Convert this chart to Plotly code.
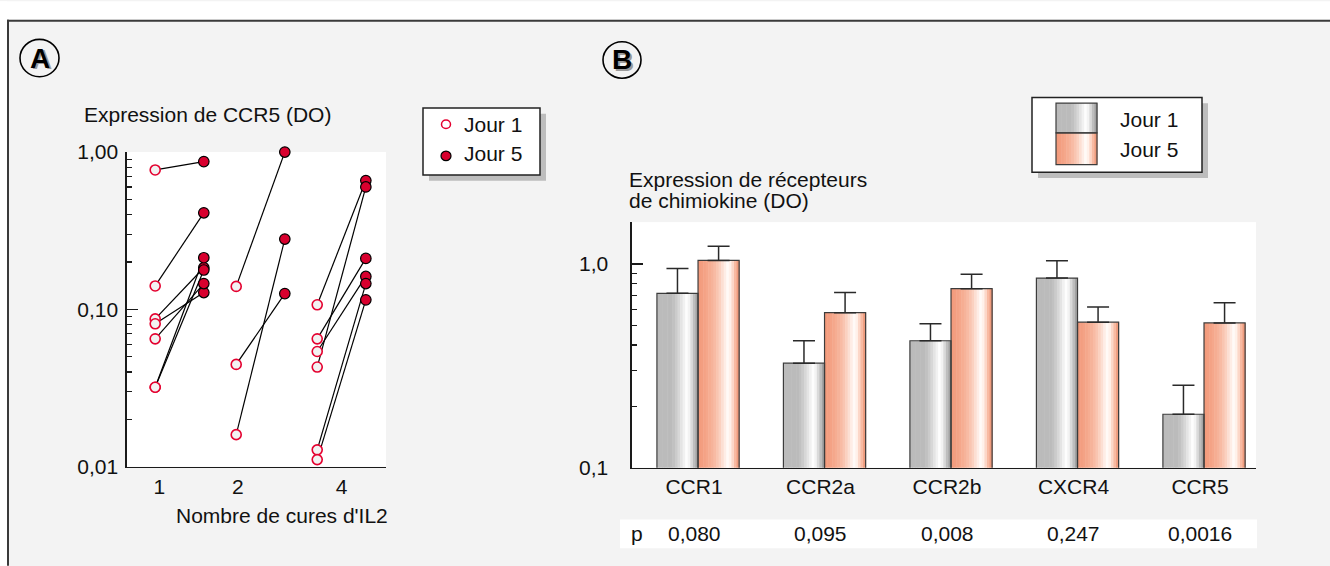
import plotly.graph_objects as go

# ---------------- data ----------------
# Panel A : CCR5 expression (DO), one entry per patient
a_groups = ['1', '2', '4']                     # Nombre de cures d'IL2
a_patient_group = [0, 0, 0, 0, 0, 0, 0, 1, 1, 1, 2, 2, 2, 2, 2, 2]
a_jour1 = [0.77, 0.141, 0.087, 0.081, 0.065, 0.032, 0.032,
           0.140, 0.0447, 0.016,
           0.107, 0.065, 0.054, 0.043, 0.0128, 0.0111]
a_jour5 = [0.87, 0.411, 0.184, 0.128, 0.146, 0.213, 0.178,
           1.0, 0.126, 0.28,
           0.659, 0.211, 0.162, 0.600, 0.146, 0.115]
a_tick_pos = [0.75, 1.72, 3.0]
a_ytick_vals = [0.01, 0.1, 1.0]
a_ytick_text = ['0,01', '0,10', '1,00']

# Panel B : chemokine receptor expression (DO)
b_cats = ['CCR1', 'CCR2a', 'CCR2b', 'CXCR4', 'CCR5']
b_jour1 = [0.718, 0.326, 0.420, 0.853, 0.183]
b_jour1_err = [0.233, 0.094, 0.089, 0.184, 0.071]
b_jour5 = [1.041, 0.577, 0.757, 0.518, 0.514]
b_jour5_err = [0.180, 0.148, 0.134, 0.098, 0.132]
b_p = ['0,080', '0,095', '0,008', '0,247', '0,0016']
b_ytick_vals = [0.1, 1.0]
b_ytick_text = ['0,1', '1,0']

# ---------------- style ----------------
W, H = 1330, 566
FONT = "Liberation Sans, Arial, Helvetica, sans-serif"
FS = 21
BG = '#f3f3f3'
RED = '#d8002e'
RED_RING = '#e4002f'
INK = '#1a1a1a'
GRAY_STRIPES = ['#bbbbbb'] * 6 + ['#c1c1c1', '#cbcbcb', '#d7d7d7', '#e4e4e4', '#f1f1f1',
                                  '#fdfdfd', '#f3f3f3', '#dadada', '#bebebe', '#a3a3a3']
SALMON_STRIPES = ['#f39b7c', '#f39e80', '#f4a285', '#f5a78b', '#f6ad92', '#f6b39a',
                  '#f8bba4', '#f9c5b1', '#fbd1c0', '#fcdfd3', '#feede6', '#fffaf7',
                  '#fff1ea', '#fcd7c8', '#f8baa2', '#ef9c7e']
A_OFF = 0.30
BAR_W = 0.325


def px(x):
    return x / W


def py(y):
    return 1 - y / H


fig = go.Figure()

# ---------------- panel A traces ----------------
x1 = [g + 1 - A_OFF for g in a_patient_group]
x5 = [g + 1 + A_OFF for g in a_patient_group]
lx, ly = [], []
for xa, ya, xb, yb in zip(x1, a_jour1, x5, a_jour5):
    lx += [xa, xb, None]
    ly += [ya, yb, None]
fig.add_trace(go.Scatter(x=lx, y=ly, mode='lines', line=dict(color='black', width=1.2),
                         xaxis='x', yaxis='y', hoverinfo='skip', cliponaxis=False))
fig.add_trace(go.Scatter(x=x1, y=a_jour1, mode='markers', xaxis='x', yaxis='y',
                         marker=dict(size=10, color='#f2f2f2', line=dict(color=RED_RING, width=1.6)),
                         cliponaxis=False, hoverinfo='skip'))
fig.add_trace(go.Scatter(x=x5, y=a_jour5, mode='markers', xaxis='x', yaxis='y',
                         marker=dict(size=10.5, color=RED, line=dict(color='black', width=1.2)),
                         cliponaxis=False, hoverinfo='skip'))

# ---------------- panel B traces ----------------
bx = list(range(len(b_cats)))
n = len(GRAY_STRIPES)
sw = BAR_W / n
for i in range(n):
    fig.add_trace(go.Bar(x=bx, y=b_jour1, offset=-BAR_W + i * sw, width=sw * 1.2,
                         marker=dict(color=GRAY_STRIPES[i], line=dict(width=0)),
                         xaxis='x2', yaxis='y2', hoverinfo='skip'))
for i in range(n):
    fig.add_trace(go.Bar(x=bx, y=b_jour5, offset=i * sw, width=sw * 1.2,
                         marker=dict(color=SALMON_STRIPES[i], line=dict(width=0)),
                         xaxis='x2', yaxis='y2', hoverinfo='skip'))
for vals, errs, off in [(b_jour1, b_jour1_err, -BAR_W), (b_jour5, b_jour5_err, 0)]:
    fig.add_trace(go.Bar(x=bx, y=vals, offset=off, width=BAR_W,
                         marker=dict(color='rgba(0,0,0,0)', line=dict(color='#3c3c3c', width=1.2)),
                         error_y=dict(type='data', symmetric=False, array=errs,
                                      arrayminus=[0] * len(errs), color='#2a2a2a',
                                      thickness=1.5, width=11),
                         xaxis='x2', yaxis='y2', hoverinfo='skip'))

# ---------------- axes ----------------
tickfont = dict(family=FONT, size=FS, color='#111')
fig.update_layout(
    width=W, height=H, margin=dict(l=0, r=0, t=0, b=0),
    paper_bgcolor=BG, plot_bgcolor='white', showlegend=False, barmode='overlay',
    font=dict(family=FONT, size=FS, color='#111'),
    xaxis=dict(domain=[px(127), px(386)], range=[0.352, 3.549], anchor='y',
               showline=True, linecolor=INK, linewidth=1.6, ticks='', showgrid=False,
               zeroline=False, tickvals=a_tick_pos, ticktext=a_groups, tickfont=tickfont,
               ticklabelstandoff=0),
    yaxis=dict(domain=[py(474), py(146)], type='log', range=[-2, 0], anchor='x',
               showline=True, linecolor=INK, linewidth=1.6, showgrid=False, zeroline=False,
               ticks='inside', ticklen=11, tickwidth=1.5, tickcolor=INK,
               tickvals=a_ytick_vals, ticktext=a_ytick_text, tickfont=tickfont,
               ticklabelstandoff=3,
               minor=dict(ticks='inside', ticklen=5, tickwidth=1.2, tickcolor=INK,
                          tickvals=[k * 0.01 for k in range(2, 10)] + [k * 0.1 for k in range(2, 10)],
                          showgrid=False)),
    xaxis2=dict(domain=[px(632), px(1256)], range=[-0.522, 4.411], anchor='y2',
                showline=True, linecolor=INK, linewidth=1.6, ticks='', showgrid=False,
                zeroline=False, tickvals=bx, ticktext=b_cats, tickfont=tickfont,
                ticklabelstandoff=0, ticklabelshift=-4),
    yaxis2=dict(domain=[py(475), py(219)], type='log', range=[-1, 0.2058], anchor='x2',
                showline=True, linecolor=INK, linewidth=1.6, showgrid=False, zeroline=False,
                ticks='inside', ticklen=11, tickwidth=1.5, tickcolor=INK,
                tickvals=b_ytick_vals, ticktext=b_ytick_text, tickfont=tickfont,
                ticklabelstandoff=18,
                minor=dict(ticks='inside', ticklen=5, tickwidth=1.2, tickcolor=INK,
                           tickvals=[k * 0.1 for k in range(2, 10)], showgrid=False)),
)

# ---------------- decorations ----------------
shapes = []
# white margin and frame border (top and left)
shapes.append(dict(type='rect', xref='paper', yref='paper', x0=-0.02, x1=1.02, y0=py(8), y1=1.02,
                   fillcolor='white', line=dict(width=0), layer='above'))
shapes.append(dict(type='rect', xref='paper', yref='paper', x0=-0.02, x1=px(7), y0=-0.02, y1=1.02,
                   fillcolor='white', line=dict(width=0), layer='above'))
shapes.append(dict(type='line', xref='paper', yref='paper', x0=px(7), x1=1.02, y0=py(9), y1=py(9),
                   line=dict(color='#3a3a3a', width=2), layer='above'))
shapes.append(dict(type='line', xref='paper', yref='paper', x0=px(8), x1=px(8), y0=py(8), y1=-0.02,
                   line=dict(color='#3a3a3a', width=2), layer='above'))

# panel label circles
for cx, cy, r in [(39.5, 48, 19.5), (622, 50, 19)]:
    shapes.append(dict(type='circle', xref='paper', yref='paper', x0=px(cx - r), x1=px(cx + r),
                       y0=py(cy + r), y1=py(cy - r), fillcolor=BG,
                       line=dict(color='black', width=1.6), layer='above'))

# legend A
shapes.append(dict(type='rect', xref='paper', yref='paper', x0=px(429), x1=px(546), y0=py(176), y1=py(106),
                   fillcolor='#bdbdbd', line=dict(width=0), layer='above'))
shapes.append(dict(type='rect', xref='paper', yref='paper', x0=px(423), x1=px(540), y0=py(170), y1=py(100),
                   fillcolor='white', line=dict(color='#222', width=1.5), layer='above'))
shapes.append(dict(type='circle', xref='paper', yref='paper', x0=px(441.5), x1=px(450.5), y0=py(121.5), y1=py(112.5),
                   fillcolor='white', line=dict(color=RED_RING, width=1.5), layer='above'))
shapes.append(dict(type='circle', xref='paper', yref='paper', x0=px(441), x1=px(451), y0=py(155), y1=py(145),
                   fillcolor=RED, line=dict(color='black', width=1.2), layer='above'))

# legend B
shapes.append(dict(type='rect', xref='paper', yref='paper', x0=px(1038), x1=px(1208), y0=py(173), y1=py(95),
                   fillcolor='#bdbdbd', line=dict(width=0), layer='above'))
shapes.append(dict(type='rect', xref='paper', yref='paper', x0=px(1032), x1=px(1202), y0=py(167), y1=py(89),
                   fillcolor='white', line=dict(color='#222', width=1.5), layer='above'))
sx0, sx1 = 1056, 1097
swp = (sx1 - sx0) / n
for i in range(n):
    for cols, y0, y1 in [(GRAY_STRIPES, 95, 126), (SALMON_STRIPES, 126, 159)]:
        shapes.append(dict(type='rect', xref='paper', yref='paper',
                           x0=px(sx0 + i * swp), x1=px(sx0 + (i + 1.2) * swp),
                           y0=py(y1), y1=py(y0), fillcolor=cols[i], line=dict(width=0), layer='above'))
for y0, y1 in [(95, 126), (126, 159)]:
    shapes.append(dict(type='rect', xref='paper', yref='paper', x0=px(sx0), x1=px(sx1),
                       y0=py(y1), y1=py(y0), fillcolor='rgba(0,0,0,0)',
                       line=dict(color='#3c3c3c', width=1.2), layer='above'))

# p-value row background
shapes.append(dict(type='rect', xref='paper', yref='paper', x0=px(620), x1=px(1257), y0=py(559), y1=py(529),
                   fillcolor='white', line=dict(width=0), layer='above'))

fig.update_layout(shapes=shapes)

ann = []


def text(x, y, s, anchor='left', size=FS, color='#111', bold=False):
    ann.append(dict(xref='paper', yref='paper', x=px(x), y=py(y),
                    text=('<b>%s</b>' % s) if bold else s, showarrow=False,
                    xanchor=anchor, yanchor='middle',
                    font=dict(family=FONT, size=size, color=color)))


# panel letters with shadow
for letter, cx, cy in [('A', 39.5, 48), ('B', 622, 50)]:
    text(cx + 2, cy + 2, letter, anchor='center', size=28, color='#9a9a9a', bold=True)
    text(cx, cy, letter, anchor='center', size=28, color='black', bold=True)

text(82, 107, 'Expression de CCR5 (DO)')
text(282, 525, "Nombre de cures d'IL2", anchor='center')
text(462, 117, 'Jour 1')
text(462, 148, 'Jour 5')

text(627, 175, 'Expression de récepteurs')
text(627, 197, 'de chimiokine (DO)')
text(1118, 112, 'Jour 1')
text(1118, 143, 'Jour 5')

text(637, 544, 'p', anchor='center')
for i, pv in enumerate(b_p):
    ann.append(dict(xref='x2', yref='paper', x=bx[i], y=py(544), text=pv, showarrow=False,
                    xanchor='center', yanchor='middle', xshift=-4,
                    font=dict(family=FONT, size=FS, color='#111')))

fig.update_layout(annotations=ann)

fig.write_html("out.html",
               config={'displayModeBar': False, 'staticPlot': True},
               post_script="document.documentElement.style.overflow='hidden';"
                           "document.body.style.overflow='hidden';"
                           "document.body.style.margin='0';")
